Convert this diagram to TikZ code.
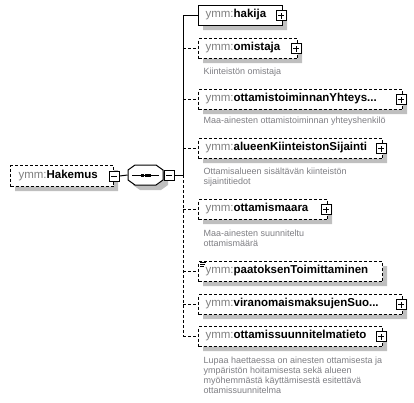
\documentclass[tikz,border=0pt]{standalone}
\usepackage{fontspec}
\setmainfont{Liberation Sans}
\definecolor{prefixgray}{RGB}{128,128,128}
\definecolor{descgray}{RGB}{125,125,130}
\newcommand{\pfx}[1]{\textcolor{prefixgray}{#1}}
\begin{document}
\begin{tikzpicture}[x=1pt,y=-1pt,line width=1pt,
  elem/.style={draw, fill=white, inner sep=0pt, anchor=north west, minimum height=20pt},
  optel/.style={elem, dash pattern=on 3pt off 2pt},
  optline/.style={dash pattern=on 3pt off 2pt},
  shadowfill/.style={fill=black, fill opacity=0.25, draw=none},
  etext/.style={anchor=west, inner sep=0pt, font=\fontsize{11.5}{13}\selectfont},
  desc/.style={anchor=north west, inner sep=0pt, align=left, text=descgray,
    font=\fontsize{9}{10.3}\selectfont},
  pmbox/.style={draw, solid, fill=white, minimum size=10pt, inner sep=0pt}
]
\useasboundingbox (0,0) rectangle (414,402);

% root element
\node[optel, minimum width=103pt, minimum height=21pt] (hakemus) at (10,165) {};

% child boxes
\node[elem, minimum width=84pt] (hakija) at (198,5) {};
\node[optel, minimum width=99pt] (omistaja) at (198,38) {};
\node[optel, minimum width=204pt] (yhteys) at (198,89) {};
\node[optel, minimum width=184pt] (sijainti) at (198,138) {};
\node[optel, minimum width=129pt] (maara) at (198,199) {};
\node[optel, minimum width=184pt] (toim) at (198,261) {};
\draw[line width=0.8pt] (200,262) -- (206,262) (200,264) -- (205,264) (200,266) -- (204,266);
\node[optel, minimum width=204pt] (maksut) at (198,294) {};
\node[optel, minimum width=184pt] (suunn) at (198,326) {};

% texts
\node[etext] (hakemusT) at (18,175.5) {\pfx{ymm:}\textbf{Hakemus}};
\node[etext] (hakijaT) at (205,15) {\pfx{ymm:}\textbf{hakija}};
\node[etext] (omistajaT) at (205,48) {\pfx{ymm:}\textbf{omistaja}};
\node[desc] (omistajaD) at (203,67) {Kiinteistön omistaja};
\node[etext] (yhteysT) at (205,99) {\pfx{ymm:}\textbf{ottamistoiminnanYhteys...}};
\node[desc] (yhteysD) at (203,116) {Maa-ainesten ottamistoiminnan yhteyshenkilö};
\node[etext] (sijaintiT) at (205,148) {\pfx{ymm:}\textbf{alueenKiinteistonSijainti}};
\node[desc] (sijaintiD) at (203,167) {Ottamisalueen sisältävän kiinteistön\\sijaintitiedot};
\node[etext] (maaraT) at (205,209) {\pfx{ymm:}\textbf{ottamismaara}};
\node[desc] (maaraD) at (203,229) {Maa-ainesten suunniteltu\\ottamismäärä};
\node[etext] (toimT) at (205,271) {\pfx{ymm:}\textbf{paatoksenToimittaminen}};
\node[etext] (maksutT) at (205,304) {\pfx{ymm:}\textbf{viranomaismaksujenSuo...}};
\node[etext] (suunnT) at (205,336) {\pfx{ymm:}\textbf{ottamissuunnitelmatieto}};
\node[desc] (suunnD) at (203,356) {Lupaa haettaessa on ainesten ottamisesta ja\\ympäristön hoitamisesta sekä alueen\\myöhemmästä käyttämisestä esitettävä\\ottamissuunnitelma};

% shadows (L-shaped strips at the lower right of each box)
\foreach \xa/\ya/\xb/\yb in {10/165/113/186, 198/5/282/25, 198/38/297/58, 198/89/402/109,
  198/138/382/158, 198/199/327/219, 198/261/382/281, 198/294/402/314, 198/326/382/346}
  \fill[shadowfill] (\xb+0.5,\ya+5) -- (\xb+5,\ya+5) -- (\xb+5,\yb+5) -- (\xa+5,\yb+5) -- (\xa+5,\yb+0.5) -- (\xb+0.5,\yb+0.5) -- cycle;
\fill[shadowfill] (140,170) -- (161,170) -- (168,175) -- (168,185) -- (161,190) -- (140,190) -- (133,185) -- (133,175) -- cycle;

% sequence compositor (drawn over its shadow)
\node[minimum width=35pt, minimum height=20pt, inner sep=0pt] (seq) at (145.5,175) {};
\draw[fill=white] (135,165) -- (156,165) -- (163,170) -- (163,180) -- (156,185) -- (135,185) -- (128,180) -- (128,170) -- cycle;
\draw (132,175) -- (159,175);
\foreach \q in {142.5,146,149.5} \fill (\q-1.5,173.5) rectangle (\q+1.5,176.5);
\coordinate (bus) at (183,175);

% expand / collapse buttons
\node[pmbox] (hakemusM) at (hakemus.east) {};
\node[pmbox] (seqM) at ([xshift=5.5pt]seq.east) {};
\node[pmbox] (hakijaP) at ([xshift=-2pt]hakija.east) {};
\node[pmbox] (omistajaP) at ([xshift=-2pt]omistaja.east) {};
\node[pmbox] (yhteysP) at ([xshift=-2pt]yhteys.east) {};
\node[pmbox] (sijaintiP) at ([xshift=-2pt]sijainti.east) {};
\node[pmbox] (maaraP) at ([xshift=-2pt]maara.east) {};
\node[pmbox] (maksutP) at ([xshift=-2pt]maksut.east) {};
\node[pmbox] (suunnP) at ([xshift=-2pt]suunn.east) {};
\foreach \m in {hakemusM,seqM}
  \draw ([xshift=-3pt]\m.center) -- ([xshift=3pt]\m.center);
\foreach \p in {hakijaP,omistajaP,yhteysP,sijaintiP,maaraP,maksutP,suunnP}
  \draw ([xshift=-3pt]\p.center) -- ([xshift=3pt]\p.center)
        ([yshift=-3pt]\p.center) -- ([yshift=3pt]\p.center);

% connectors
\draw (hakemusM.east) -- (seq.west);
\draw (seqM.east) -- (bus);
\draw (bus) -- (bus |- hakija.west) -- (hakija.west);
\draw[optline] (bus) -- (bus |- suunn.west);
\foreach \c in {omistaja,yhteys,sijainti,maara,toim,maksut,suunn}
  \draw[optline] (bus |- \c.west) -- (\c.west);
\end{tikzpicture}
\end{document}
